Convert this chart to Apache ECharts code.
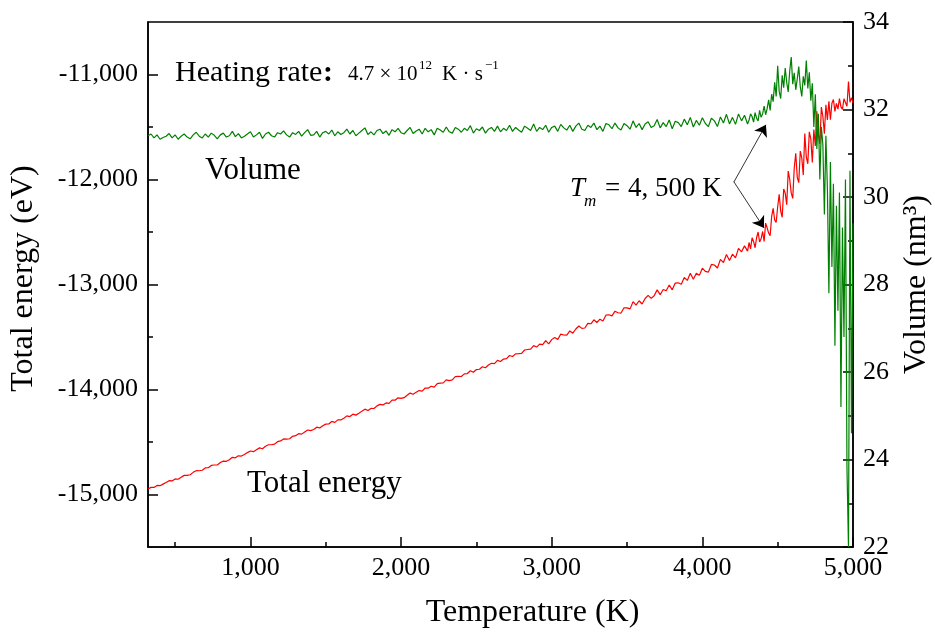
<!DOCTYPE html>
<html>
<head>
<meta charset="utf-8">
<script src="https://cdn.jsdelivr.net/npm/echarts@6/dist/echarts.min.js"></script>
<style>
  html, body { margin: 0; padding: 0; background: #fff; }
  #chart { width: 935px; height: 632px; }
</style>
</head>
<body>
<div id="chart"></div>
<script>
// Sampling grids (K): coarse grid for the solid range, finer grid through melting
const temperatureSolidStart = 320;
const temperatureSolidStep = 20;
const temperatureMeltStart = 4310;
const temperatureMeltStep = 10;

// Total energy (eV), 320 K .. 4300 K
const energySolid = [
  -14947, -14932, -14933, -14914, -14916, -14901, -14886, -14868, -14871, -14852,
  -14855, -14835, -14818, -14817, -14812, -14789, -14773, -14774, -14769, -14747,
  -14745, -14723, -14719, -14719, -14696, -14682, -14684, -14669, -14646, -14651,
  -14632, -14634, -14619, -14601, -14586, -14592, -14574, -14556, -14564, -14540,
  -14526, -14526, -14520, -14497, -14490, -14471, -14473, -14469, -14446, -14440,
  -14421, -14425, -14405, -14386, -14392, -14381, -14359, -14366, -14345, -14330,
  -14328, -14304, -14313, -14289, -14290, -14274, -14251, -14258, -14235, -14244,
  -14226, -14206, -14187, -14200, -14180, -14181, -14156, -14142, -14147, -14128,
  -14133, -14102, -14102, -14079, -14085, -14078, -14055, -14034, -14045, -14027,
  -14010, -14016, -13986, -13987, -13969, -13977, -13944, -13940, -13937, -13909,
  -13915, -13908, -13878, -13875, -13876, -13851, -13848, -13821, -13836, -13810,
  -13807, -13783, -13793, -13767, -13750, -13753, -13723, -13733, -13710, -13706,
  -13676, -13686, -13661, -13659, -13656, -13624, -13619, -13616, -13582, -13596,
  -13568, -13572, -13535, -13565, -13525, -13505, -13524, -13473, -13481, -13482,
  -13442, -13464, -13424, -13395, -13418, -13414, -13370, -13374, -13336, -13362,
  -13330, -13347, -13292, -13288, -13299, -13254, -13269, -13272, -13222, -13222,
  -13232, -13164, -13196, -13155, -13186, -13133, -13104, -13132, -13107, -13051,
  -13097, -13047, -13060, -13005, -13051, -12986, -12984, -12997, -12933, -12961,
  -12893, -12950, -12892, -12913, -12845, -12875, -12882, -12809, -12814, -12843,
  -12761, -12791, -12715, -12771, -12711, -12747, -12656, -12689, -12632, -12682
];

// Total energy (eV), 4310 K .. 5000 K
const energyMelt = [
  -12600, -12660, -12555, -12590, -12650, -12555, -12500, -12595, -12565, -12495,
  -12590, -12415, -12460, -12510, -12535, -12352, -12274, -12386, -12408, -12260,
  -12140, -12300, -12360, -12090, -12130, -12240, -11920, -12000, -12130, -12180,
  -11890, -11750, -11980, -12030, -11730, -11794, -11958, -11562, -11786, -11850,
  -11546, -11612, -11838, -11524, -11680, -11350, -11560, -11660, -11310, -11400,
  -11564, -11288, -11432, -11256, -11430, -11274, -11238, -11352, -11276, -11330,
  -11229, -11308, -11332, -11231, -11250, -11303, -11066, -11264, -11222, -11270
];

// Volume (nm^3), 320 K .. 4300 K
const volumeSolid = [
  31.40, 31.44, 31.35, 31.42, 31.32, 31.36, 31.39, 31.45, 31.35, 31.42,
  31.32, 31.39, 31.44, 31.37, 31.33, 31.42, 31.48, 31.39, 31.35, 31.44,
  31.37, 31.46, 31.41, 31.33, 31.42, 31.46, 31.37, 31.40, 31.50, 31.38,
  31.45, 31.35, 31.39, 31.44, 31.49, 31.37, 31.42, 31.48, 31.34, 31.44,
  31.48, 31.40, 31.37, 31.47, 31.44, 31.51, 31.42, 31.37, 31.47, 31.43,
  31.50, 31.39, 31.47, 31.54, 31.41, 31.42, 31.50, 31.37, 31.47, 31.50,
  31.44, 31.53, 31.40, 31.49, 31.43, 31.47, 31.55, 31.44, 31.52, 31.40,
  31.46, 31.52, 31.58, 31.43, 31.49, 31.42, 31.52, 31.55, 31.45, 31.51,
  31.41, 31.54, 31.49, 31.57, 31.47, 31.44, 31.52, 31.59, 31.45, 31.51,
  31.55, 31.44, 31.57, 31.49, 31.54, 31.42, 31.57, 31.53, 31.48, 31.60,
  31.49, 31.46, 31.59, 31.55, 31.48, 31.57, 31.52, 31.63, 31.46, 31.56,
  31.52, 31.60, 31.46, 31.55, 31.59, 31.50, 31.62, 31.49, 31.57, 31.52,
  31.64, 31.50, 31.59, 31.53, 31.48, 31.62, 31.57, 31.52, 31.67, 31.50,
  31.59, 31.54, 31.64, 31.48, 31.59, 31.62, 31.50, 31.66, 31.58, 31.53,
  31.64, 31.50, 31.62, 31.69, 31.55, 31.52, 31.64, 31.59, 31.69, 31.54,
  31.62, 31.50, 31.68, 31.65, 31.56, 31.69, 31.58, 31.53, 31.68, 31.63,
  31.55, 31.74, 31.59, 31.68, 31.54, 31.67, 31.72, 31.59, 31.63, 31.77,
  31.58, 31.70, 31.61, 31.76, 31.56, 31.73, 31.70, 31.61, 31.78, 31.65,
  31.82, 31.60, 31.75, 31.64, 31.81, 31.68, 31.61, 31.80, 31.74, 31.61,
  31.83, 31.69, 31.89, 31.67, 31.82, 31.66, 31.90, 31.74, 31.87, 31.67
];

// Volume (nm^3), 4310 K .. 5000 K
const volumeMelt = [
  31.76, 31.90, 31.84, 31.71, 31.93, 31.80, 31.74, 31.98, 31.82, 31.90,
  32.08, 31.88, 32.02, 32.22, 31.98, 32.35, 32.18, 32.62, 32.30, 33.00,
  32.42, 32.25, 32.78, 32.50, 32.95, 32.62, 32.40, 32.88, 33.20, 32.58,
  32.84, 32.45, 32.70, 32.98, 32.52, 32.30, 32.76, 32.55, 33.12, 32.48,
  32.85, 32.20, 32.60, 31.60, 32.35, 31.10, 31.90, 30.40, 31.60, 31.20,
  29.60, 31.40, 30.20, 27.80, 30.80, 28.40, 30.30, 26.60, 29.80, 27.40,
  30.10, 25.20, 29.30, 26.80, 30.40, 23.80, 22.00, 30.60, 24.60, 29.40
];

// Axis ticks
const temperatureMajorTicks = [1000, 2000, 3000, 4000, 5000];
const temperatureMinorTicks = [500, 1500, 2500, 3500, 4500];
const energyMajorTicks = [-15000, -14000, -13000, -12000, -11000];
const energyMinorTicks = [-14500, -13500, -12500, -11500];

// Melting-point arrows: [temperature, value] start and end
const meltArrowVolume = [[4209, 30.34], [4422, 31.65]];
const meltArrowEnergy = [[4209, -12021], [4409, -12461]];

function toPairs(start, step, values) {
  return values.map((v, i) => [start + step * i, v]);
}

const energyData = toPairs(temperatureSolidStart, temperatureSolidStep, energySolid)
  .concat(toPairs(temperatureMeltStart, temperatureMeltStep, energyMelt));
const volumeData = toPairs(temperatureSolidStart, temperatureSolidStep, volumeSolid)
  .concat(toPairs(temperatureMeltStart, temperatureMeltStep, volumeMelt));

const FONT = 'Liberation Serif';
const fmt = v => Number(v).toLocaleString('en-US');

const tickStyle = { color: '#000', width: 1.5 };
const arrowMark = data => ({
  silent: true, symbol: ['none', 'arrow'], symbolSize: 11,
  label: { show: false },
  lineStyle: { color: '#000', width: 0.8, type: 'solid' },
  data: [[{ coord: data[0] }, { coord: data[1] }]]
});

const chart = echarts.init(document.getElementById('chart'), null, { renderer: 'canvas' });

chart.setOption({
  animation: false,
  backgroundColor: '#fff',
  grid: {
    left: 148, right: 82, top: 22, bottom: 85,
    containLabel: false,
    outerBoundsMode: 'none',
    show: true, borderColor: '#000', borderWidth: 1.5, backgroundColor: 'transparent'
  },
  xAxis: [
    {
      type: 'value', position: 'bottom', min: 320, max: 5000,
      axisLine: { show: true, onZero: false, lineStyle: { color: '#000', width: 1.5 } },
      axisTick: { show: true, inside: true, length: 10, lineStyle: tickStyle, customValues: temperatureMajorTicks },
      axisLabel: {
        customValues: temperatureMajorTicks, formatter: fmt, margin: 8,
        color: '#000', fontFamily: FONT, fontSize: 26
      },
      splitLine: { show: false },
      name: 'Temperature (K)', nameLocation: 'middle', nameGap: 50,
      nameTextStyle: { color: '#000', fontFamily: FONT, fontSize: 32, padding: [0, 0, 0, 64] }
    },
    {
      type: 'value', position: 'bottom', min: 320, max: 5000,
      axisLine: { show: false },
      axisTick: { show: true, inside: true, length: 5, lineStyle: tickStyle, customValues: temperatureMinorTicks },
      axisLabel: { show: false },
      splitLine: { show: false }
    }
  ],
  yAxis: [
    {
      type: 'value', position: 'left', min: -15500, max: -10500,
      axisLine: { show: true, onZero: false, lineStyle: { color: '#000', width: 1.5 } },
      axisTick: { show: true, inside: true, length: 10, lineStyle: tickStyle, customValues: energyMajorTicks },
      axisLabel: {
        customValues: energyMajorTicks, formatter: fmt, margin: 10,
        color: '#000', fontFamily: FONT, fontSize: 26
      },
      splitLine: { show: false },
      name: 'Total energy (eV)', nameLocation: 'middle', nameGap: 108,
      nameTextStyle: { color: '#000', fontFamily: FONT, fontSize: 32, padding: [0, 0, 0, 12] }
    },
    {
      type: 'value', position: 'right', min: 22, max: 34, interval: 2,
      axisLine: { show: true, onZero: false, lineStyle: { color: '#000', width: 1.5 } },
      axisTick: { show: true, inside: true, length: 10, lineStyle: tickStyle },
      minorTick: { show: true, splitNumber: 2, length: 5, lineStyle: tickStyle },
      axisLabel: { margin: 10, color: '#000', fontFamily: FONT, fontSize: 26 },
      splitLine: { show: false },
      name: 'Volume (nm³)', nameLocation: 'middle', nameGap: 48,
      nameTextStyle: { color: '#000', fontFamily: FONT, fontSize: 32 }
    },
    {
      type: 'value', position: 'left', min: -15500, max: -10500,
      axisLine: { show: false },
      axisTick: { show: true, inside: true, length: 5, lineStyle: tickStyle, customValues: energyMinorTicks },
      axisLabel: { show: false },
      splitLine: { show: false }
    }
  ],
  series: [
    {
      name: 'Total energy', type: 'line', xAxisIndex: 0, yAxisIndex: 0,
      data: energyData, showSymbol: false, symbol: 'none',
      lineStyle: { color: '#ff0000', width: 1.2 }, itemStyle: { color: '#ff0000' },
      silent: true, z: 2,
      markLine: arrowMark(meltArrowEnergy)
    },
    {
      name: 'Volume', type: 'line', xAxisIndex: 0, yAxisIndex: 1,
      data: volumeData, showSymbol: false, symbol: 'none',
      lineStyle: { color: '#008000', width: 1.2 }, itemStyle: { color: '#008000' },
      silent: true, z: 3,
      markLine: arrowMark(meltArrowVolume)
    }
  ],
  graphic: [
    { type: 'text', left: 175, top: 58, silent: true,
      style: { text: 'Heating rate', fill: '#000', font: '30px "Liberation Serif"' } },
    { type: 'text', left: 323, top: 58, silent: true,
      style: { text: ':', fill: '#000', font: 'bold 30px "Liberation Serif"' } },
    { type: 'text', left: 348, top: 64, silent: true,
      style: { text: '4.7 × 10', fill: '#000', font: '21px "Liberation Serif"' } },
    { type: 'text', left: 419, top: 59, silent: true,
      style: { text: '12', fill: '#000', font: '13px "Liberation Serif"' } },
    { type: 'text', left: 442, top: 64, silent: true,
      style: { text: 'K · s', fill: '#000', font: '21px "Liberation Serif"' } },
    { type: 'text', left: 485, top: 59, silent: true,
      style: { text: '−1', fill: '#000', font: '13px "Liberation Serif"' } },
    { type: 'text', left: 205, top: 155, silent: true,
      style: { text: 'Volume', fill: '#000', font: '31px "Liberation Serif"' } },
    { type: 'text', left: 247, top: 468, silent: true,
      style: { text: 'Total energy', fill: '#000', font: '31px "Liberation Serif"' } },
    { type: 'text', left: 570, top: 175, silent: true,
      style: { text: 'T', fill: '#000', font: 'italic 27px "Liberation Serif"' } },
    { type: 'text', left: 584, top: 193, silent: true,
      style: { text: 'm', fill: '#000', font: 'italic 17px "Liberation Serif"' } },
    { type: 'text', left: 605, top: 175, silent: true,
      style: { text: '=', fill: '#000', font: '27px "Liberation Serif"' } },
    { type: 'text', left: 628, top: 175, silent: true,
      style: { text: '4, 500 K', fill: '#000', font: '27px "Liberation Serif"' } }
  ]
});
</script>
</body>
</html>
